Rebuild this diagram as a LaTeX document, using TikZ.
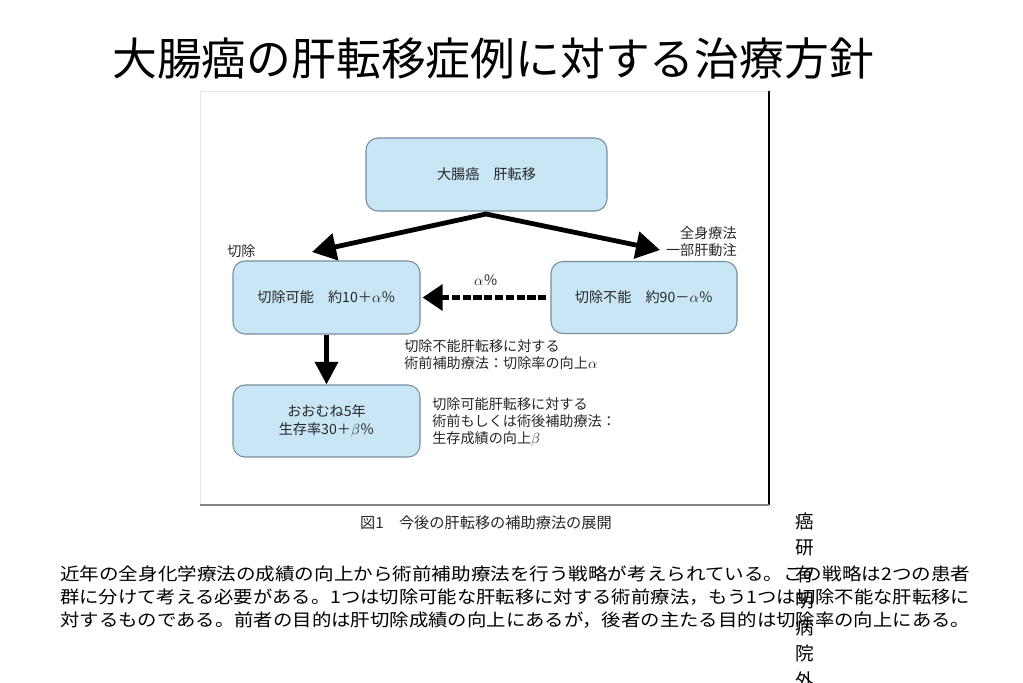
\documentclass[tikz,border=0pt]{standalone}
\usepackage{fontspec}
\usepackage{graphicx}
\setmainfont{Noto Sans CJK JP}
\usetikzlibrary{arrows.meta,calc}
\definecolor{boxfill}{RGB}{200,230,246}
\definecolor{boxline}{RGB}{120,140,158}
\definecolor{txtgray}{RGB}{40,40,40}
\definecolor{framebot}{RGB}{135,135,135}
\newcommand{\paraline}[1]{\resizebox{682.5pt}{\height}{#1}}
\begin{document}
\begin{tikzpicture}[x=0.75pt,y=-0.75pt,
  titlefont/.style={font=\fontsize{33.6pt}{40pt}\selectfont, inner sep=0pt},
  parafont/.style={font=\fontsize{13pt}{16pt}\selectfont, inner sep=0pt},
  vertfont/.style={font=\fontsize{14pt}{16pt}\selectfont, inner sep=0pt},
  dlabel/.style={font=\fontsize{10.6pt}{12.75pt}\selectfont, text=txtgray, inner sep=0pt},
  capfont/.style={font=\fontsize{11.4pt}{13pt}\selectfont, text=txtgray, inner sep=0pt},
  diabox/.style={draw=boxline, fill=boxfill, line width=0.8pt, rounded corners=9pt,
    align=center, inner sep=0pt, font=\fontsize{10.6pt}{13.5pt}\selectfont, text=txtgray},
  bigarrow/.style={line width=3.6pt, line join=miter, miter limit=10,
    {Triangle[length=18pt,width=20pt]}-{Triangle[length=18pt,width=20pt]}},
  downarrow/.style={line width=3.5pt, -{Triangle[length=17pt,width=17pt]}},
  dasharrow/.style={line width=3.8pt, dash pattern=on 6.2pt off 1.9pt,
    -{Triangle[length=15pt,width=19pt]}}
]
\useasboundingbox (0,0) rectangle (1023,682);
\fill[white] (0,0) rectangle (1023,682);

% title
\node[titlefont] (title) at (493,58) {大腸癌の肝転移症例に対する治療方針};

% figure frame
\draw[black!10, line width=0.75pt] (200,505) -- (200,91) -- (769,91);
\draw[black, line width=0.9pt] (769,91) -- (769,505);
\draw[framebot, line width=1.6pt] (200,505) -- (769.4,505);

% boxes
\node[diabox, minimum width=180.75pt, minimum height=54.75pt] (top) at (486.5,174.5) {大腸癌　肝転移};
\node[diabox, minimum width=140.25pt, minimum height=54.75pt] (lbox) at (326.5,297.5) {切除可能　約10＋$\alpha$％};
\node[diabox, minimum width=139.5pt, minimum height=54pt] (rbox) at (644,297.5) {切除不能　約90－$\alpha$％};
\node[diabox, minimum width=140.25pt, minimum height=54pt] (bbox) at (326.5,421) {おおむね5年\\生存率30＋$\beta$％};

% arrows
\coordinate (apex) at (486,214);
\coordinate (ltip) at (312,252);
\coordinate (rtip) at (660,250);
\draw[bigarrow] (ltip) -- (apex) -- (rtip);
\draw[downarrow] (lbox.south) -- (bbox.north);
\draw[dasharrow, shorten <=3pt, shorten >=1.5pt] (rbox.west) -- (lbox.east);

% labels
\node[dlabel, anchor=west] (kirijo) at (227,251) {切除};
\node[dlabel, anchor=east, align=right] (zenshin) at (737,241.5) {全身療法\\一部肝動注};
\node[dlabel] (alpha) at (486,280) {$\alpha$％};
\node[dlabel, anchor=west, align=left] (note1) at (404,354.5) {切除不能肝転移に対する\\術前補助療法：切除率の向上$\alpha$};
\node[dlabel, anchor=west, align=left] (note2) at (432,422) {切除可能肝転移に対する\\術前もしくは術後補助療法：\\生存成績の向上$\beta$};
\node[capfont] (caption) at (486,523) {図1　今後の肝転移の補助療法の展開};

% paragraph
\node[parafont, anchor=west] (p1) at (60,574) {\paraline{近年の全身化学療法の成績の向上から術前補助療法を行う戦略が考えられている。この戦略は2つの患者}};
\node[parafont, anchor=west] (p2) at (60,597) {\paraline{群に分けて考える必要がある。1つは切除可能な肝転移に対する術前療法，もう1つは切除不能な肝転移に}};
\node[parafont, anchor=west] (p3) at (60,620) {\paraline{対するものである。前者の目的は肝切除成績の向上にあるが，後者の主たる目的は切除率の向上にある。}};

% vertical text
\foreach \c [count=\i] in {癌,研,有,明,病,院,外}
  \node[vertfont] (v\i) at (805,{521+26.5*(\i-1)}) {\c};
\end{tikzpicture}
\end{document}
